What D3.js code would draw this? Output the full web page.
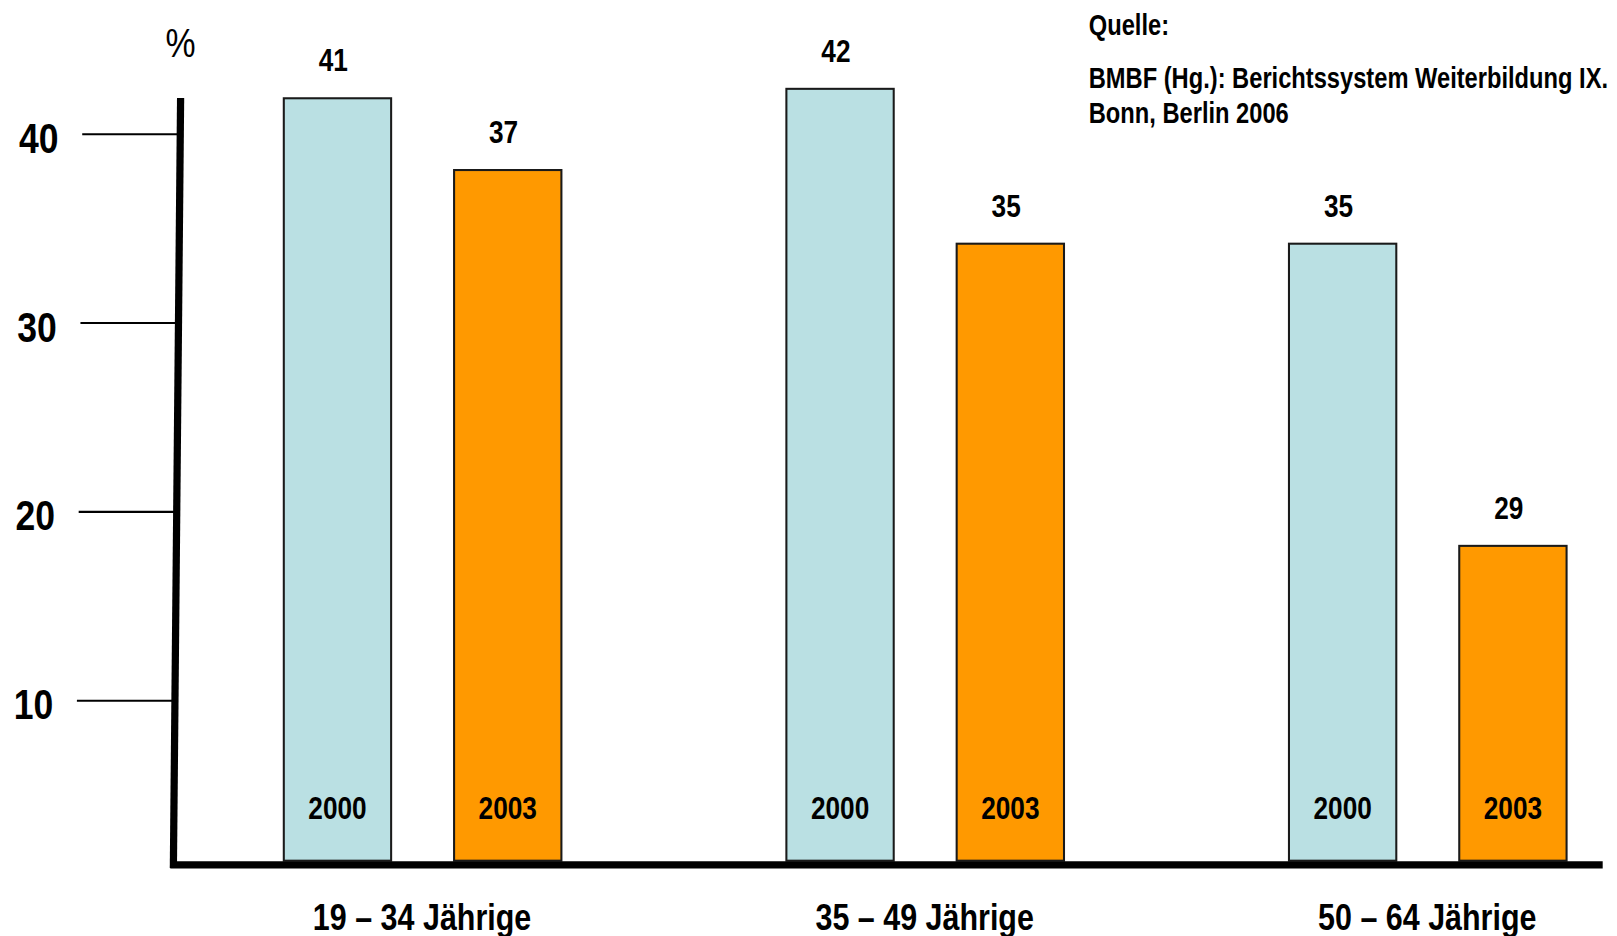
<!DOCTYPE html>
<html>
<head>
<meta charset="utf-8">
<script src="https://cdn.jsdelivr.net/npm/d3@7"></script>
<style>
  body { margin: 0; background: #fff; }
  text { font-family: "Liberation Sans", Arial, sans-serif; font-weight: bold; fill: #000; }
</style>
</head>
<body>
<div id="chart"></div>
<script>
// data
var groups = ["19 – 34 Jährige", "35 – 49 Jährige", "50 – 64 Jährige"];
var years = ["2000", "2003"];
// printed values above the bars
var labels2000 = [41, 42, 35];
var labels2003 = [37, 35, 29];
// bar heights as drawn against the axis
var bars2000 = [41.9, 42.4, 34.2];
var bars2003 = [38.1, 34.2, 18.2];
var yTicks = [10, 20, 30, 40];
var source = ["Quelle:", "BMBF (Hg.): Berichtssystem Weiterbildung IX.", "Bonn, Berlin 2006"];

var colors = { "2000": "#bae0e3", "2003": "#ff9900" };

var W = 1617, H = 936;
var k = 1.032;   // layout was measured on a slightly smaller copy
var svg = d3.select("#chart").append("svg")
    .attr("width", W)
    .attr("height", H)
    .append("g")
    .attr("transform", "scale(" + k + ")");

// condensed look: squeeze text horizontally around its anchor
var squeeze = 0.82;
function place(sel, fx, fy) {
    sel.attr("transform", function (d, i) {
        return "translate(" + fx(d, i) + "," + fy(d, i) + ") scale(" + squeeze + ",1)";
    });
}

// scales
var y = d3.scaleLinear().domain([10, 40]).range([679, 130]);
var baseY = 834;
var x0 = d3.scaleBand().domain(groups).range([275, 275 + 3 * 487]);
var x1 = d3.scaleBand().domain(years).range([0, 269]).paddingInner(61 / 165);

// slanted axis: x position depends on y
var axTop = 95, axBot = 841;
var axisX = function (yy) { return 175 - 7 * (yy - axTop) / (axBot - axTop); };

var rows = [];
groups.forEach(function (g, i) {
    rows.push({ group: g, year: "2000", bar: bars2000[i], label: labels2000[i] });
    rows.push({ group: g, year: "2003", bar: bars2003[i], label: labels2003[i] });
});

// bars
svg.selectAll(".bar")
    .data(rows)
    .enter().append("rect")
    .attr("class", "bar")
    .attr("x", function (d) { return x0(d.group) + x1(d.year); })
    .attr("y", function (d) { return y(d.bar); })
    .attr("width", x1.bandwidth())
    .attr("height", function (d) { return baseY - y(d.bar); })
    .style("fill", function (d) { return colors[d.year]; })
    .style("stroke", "#1a1a1a")
    .style("stroke-width", 2);

// value labels
svg.selectAll(".val")
    .data(rows)
    .enter().append("text")
    .attr("text-anchor", "middle")
    .style("font-size", "31px")
    .text(function (d) { return d.label; })
    .call(place,
        function (d) { return x0(d.group) + x1(d.year) + x1.bandwidth() / 2 - 4; },
        function (d) { return y(d.bar) - 26; });

// year labels inside bars
svg.selectAll(".yr")
    .data(rows)
    .enter().append("text")
    .attr("text-anchor", "middle")
    .style("font-size", "31px")
    .text(function (d) { return d.year; })
    .call(place,
        function (d) { return x0(d.group) + x1(d.year) + x1.bandwidth() / 2; },
        function () { return 794; });

// y axis line and ticks
svg.append("line")
    .attr("x1", axisX(axTop)).attr("y1", axTop)
    .attr("x2", axisX(axBot)).attr("y2", axBot)
    .style("stroke", "#000").style("stroke-width", 7);

var tick = svg.selectAll(".tick")
    .data(yTicks)
    .enter().append("g")
    .attr("class", "tick");

tick.append("line")
    .attr("x1", function (d) { return axisX(y(d)) - 95; })
    .attr("x2", function (d) { return axisX(y(d)); })
    .attr("y1", function (d) { return y(d); })
    .attr("y2", function (d) { return y(d); })
    .style("stroke", "#000").style("stroke-width", 2);

tick.append("text")
    .attr("text-anchor", "end")
    .style("font-size", "42px")
    .text(function (d) { return d; })
    .call(place,
        function (d) { return axisX(y(d)) - 118; },
        function (d) { return y(d) + 18; });

svg.append("text")
    .attr("text-anchor", "middle")
    .style("font-size", "40px")
    .style("font-weight", "normal")
    .text("%")
    .call(place, function () { return 175; }, function () { return 55; });

// x baseline
svg.append("line")
    .attr("x1", 165).attr("y1", 838)
    .attr("x2", 1553).attr("y2", 838)
    .style("stroke", "#000").style("stroke-width", 7);

// group labels
svg.selectAll(".grp")
    .data(groups)
    .enter().append("text")
    .attr("text-anchor", "middle")
    .style("font-size", "36px")
    .text(function (d) { return d; })
    .call(place, function (d) { return x0(d) + 134; }, function () { return 901; });

// source note
svg.selectAll(".src")
    .data(source)
    .enter().append("text")
    .style("font-size", "28px")
    .text(function (d) { return d; })
    .call(place, function () { return 1055; }, function (d, i) { return [34, 85, 119][i]; });
</script>
</body>
</html>
